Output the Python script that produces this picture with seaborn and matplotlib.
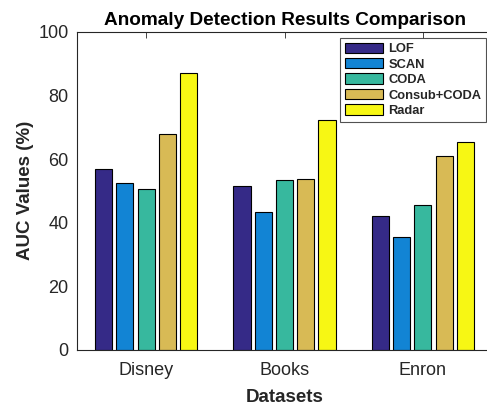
import matplotlib
matplotlib.use("Agg")
import matplotlib.pyplot as plt
import seaborn as sns
import pandas as pd

datasets = ["Disney", "Books", "Enron"]
methods = ["LOF", "SCAN", "CODA", "Consub+CODA", "Radar"]
lof = [56.9, 51.5, 42.0]
scan = [52.6, 43.2, 35.4]
coda = [50.5, 53.3, 45.7]
consub_coda = [68.0, 53.6, 60.8]
radar = [87.1, 72.2, 65.2]
colors = ["#352a87", "#1284d4", "#37b89e", "#d8ba55", "#f7f714"]
yticks = [0, 20, 40, 60, 80, 100]

values = [lof, scan, coda, consub_coda, radar]
rows = []
for m, vals in zip(methods, values):
    for d, v in zip(datasets, vals):
        rows.append({"Datasets": d, "Method": m, "AUC": v})
df = pd.DataFrame(rows)

sns.set_style("white")
plt.rcParams["font.family"] = ["Liberation Sans", "DejaVu Sans"]

fig = plt.figure(figsize=(4.87, 4.08), dpi=100)
ax = fig.add_axes([77 / 487, 58 / 408, 415 / 487, 318.3 / 408])

sns.barplot(data=df, x="Datasets", y="AUC", hue="Method", hue_order=methods,
            order=datasets, palette=colors, width=0.77, gap=0.19,
            edgecolor="black", linewidth=0.8, saturation=1, ax=ax, errorbar=None)

ax.set_xlim(-0.5, 2.5)
ax.set_ylim(0, 100)
ax.set_yticks(yticks)
ax.tick_params(direction="in", top=True, right=False, length=4, width=0.6,
               labelsize=13, colors="#262626", pad=6)
ax.tick_params(axis="x", pad=8.5)
for s in ax.spines.values():
    s.set_color("#262626")
    s.set_linewidth(0.8)
ax.set_xlabel("Datasets", fontsize=13.5, fontweight="bold", color="#262626", labelpad=7)
ax.set_ylabel("AUC Values (%)", fontsize=13.5, fontweight="bold", color="#262626", labelpad=3)
ax.set_title("Anomaly Detection Results Comparison", fontsize=13.7, fontweight="bold",
             color="black", pad=5)

handles, labels = ax.get_legend_handles_labels()
leg = ax.legend(handles, labels, loc="upper right",
                bbox_to_anchor=(486 / 487, (408 - 38) / 408),
                bbox_transform=fig.transFigure, borderaxespad=0,
                fancybox=False, frameon=True, edgecolor="#262626",
                prop={"weight": "bold", "size": 9.3}, handlelength=3.0,
                handleheight=0.85, labelspacing=0.22, handletextpad=0.4,
                borderpad=0.35)
leg.get_frame().set_linewidth(0.8)

fig.savefig("out.png", dpi=100)
